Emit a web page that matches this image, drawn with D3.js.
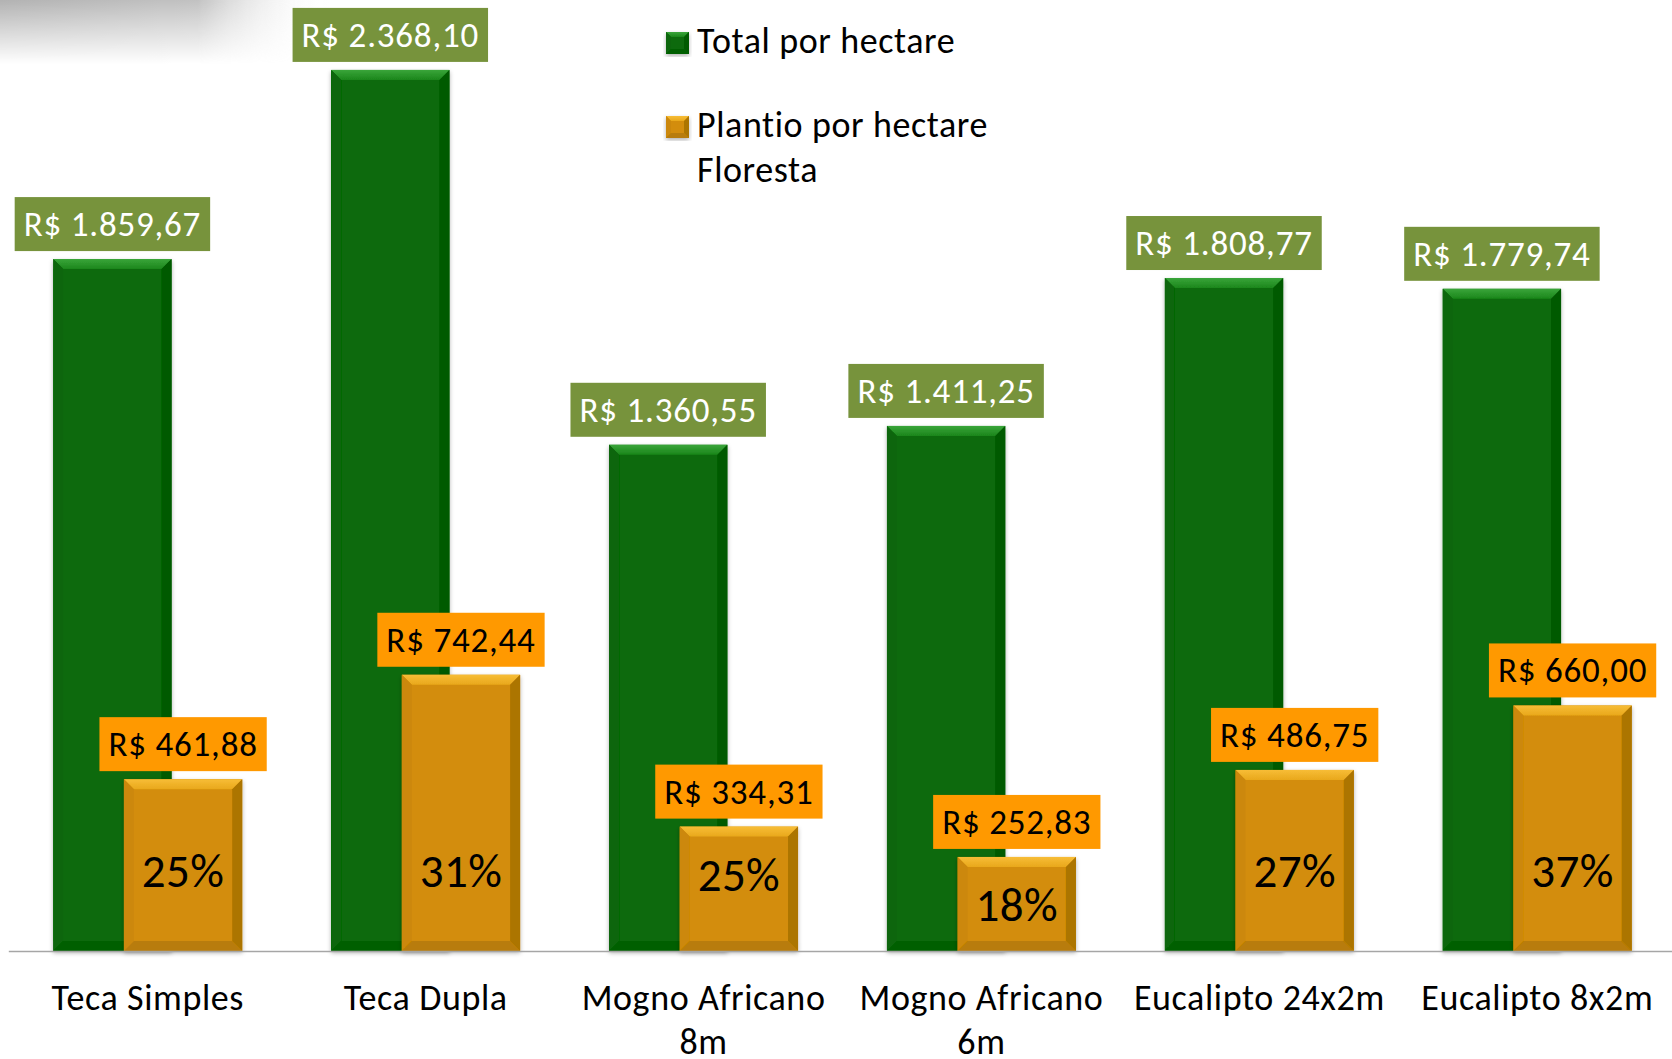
<!DOCTYPE html>
<html>
<head>
<meta charset="utf-8">
<script src="https://cdn.jsdelivr.net/npm/d3@7"></script>
<style>
  html, body { margin: 0; padding: 0; background: #fff; }
  svg { display: block; font-family: Calibri, Carlito, Lato, sans-serif; }
</style>
</head>
<body>
<svg width="1672" height="1059"></svg>
<script>
// values
const categories = ["Teca Simples", "Teca Dupla", "Mogno Africano\n8m", "Mogno Africano\n6m", "Eucalipto 24x2m", "Eucalipto 8x2m"];
const totalPorHectare = [1859.67, 2368.10, 1360.55, 1411.25, 1808.77, 1779.74];
const plantioPorHectare = [461.88, 742.44, 334.31, 252.83, 486.75, 660.00];
const seriesNames = ["Total por hectare", "Plantio por hectare\nFloresta"];

const width = 1672, height = 1059;
const baseY = 951;

const br = d3.formatLocale({ decimal: ",", thousands: ".", grouping: [3], currency: ["R$ ", ""] });
const money = br.format("$,.2f");
const pct = d3.format(".0%");

const svg = d3.select("svg");
const defs = svg.append("defs");

// grey fade in the top left corner (slide background)
const gx = defs.append("linearGradient").attr("id", "fadeX");
gx.append("stop").attr("offset", "0%").attr("stop-color", "#b2b2b2");
gx.append("stop").attr("offset", "60%").attr("stop-color", "#c2c2c2");
gx.append("stop").attr("offset", "100%").attr("stop-color", "#fff").attr("stop-opacity", 0);
const gy = defs.append("linearGradient").attr("id", "fadeY").attr("x2", 0).attr("y2", 1);
gy.append("stop").attr("offset", "0%").attr("stop-color", "#fff").attr("stop-opacity", 1);
gy.append("stop").attr("offset", "100%").attr("stop-color", "#fff").attr("stop-opacity", 0);
const mask = defs.append("mask").attr("id", "fadeMask");
mask.append("rect").attr("width", 330).attr("height", 64).attr("fill", "url(#fadeY)");
svg.append("rect").attr("width", 330).attr("height", 64)
  .attr("fill", "url(#fadeX)").attr("mask", "url(#fadeMask)");

const shadow = defs.append("filter").attr("id", "shadow")
  .attr("x", "-10%").attr("y", "-5%").attr("width", "120%").attr("height", "115%");
shadow.append("feDropShadow").attr("dx", 0).attr("dy", 2).attr("stdDeviation", 2)
  .attr("flood-color", "#000").attr("flood-opacity", 0.3);

const palettes = {
  green: { main: "#076a07", top: ["#3aa53a", "#1b861b"], left: "#086608", right: "#055a05", bottom: "#065e06" },
  orange: { main: "#d38d07", top: ["#f7bd36", "#e9a81c"], left: "#cc8808", right: "#ac7406", bottom: "#b87c07" }
};
Object.entries(palettes).forEach(([k, p]) => {
  const g = defs.append("linearGradient").attr("id", "top-" + k).attr("x2", 0).attr("y2", 1);
  g.append("stop").attr("offset", "0%").attr("stop-color", p.top[0]);
  g.append("stop").attr("offset", "100%").attr("stop-color", p.top[1]);
});

const x = d3.scaleBand().domain(categories).range([8.8, 1676.2]).paddingInner(0.32).paddingOuter(0.16);
const y = d3.scaleLinear().domain([0, 2556]).range([baseY, 0]);
const barW = x.bandwidth() * 0.626;
const offs = [0, x.bandwidth() - barW];

// bevelled bar
function bevelBar(g, bx, by, w, h, key, b) {
  const p = palettes[key];
  const bb = Math.min(b, h / 2, w / 2);
  const grp = g.append("g").attr("filter", "url(#shadow)");
  grp.append("rect").attr("x", bx).attr("y", by).attr("width", w).attr("height", h).attr("fill", p.main);
  const poly = (pts, fill) => grp.append("polygon").attr("points", pts.map(d => d.join(",")).join(" ")).attr("fill", fill);
  poly([[bx, by], [bx + w, by], [bx + w - bb, by + bb], [bx + bb, by + bb]], "url(#top-" + key + ")");
  poly([[bx, by], [bx + bb, by + bb], [bx + bb, by + h - bb], [bx, by + h]], p.left);
  poly([[bx + w, by], [bx + w - bb, by + bb], [bx + w - bb, by + h - bb], [bx + w, by + h]], p.right);
  poly([[bx, by + h], [bx + bb, by + h - bb], [bx + w - bb, by + h - bb], [bx + w, by + h]], p.bottom);
}

const series = [
  { key: "green", values: totalPorHectare, box: "#77933c", txt: "#fff" },
  { key: "orange", values: plantioPorHectare, box: "#ff9900", txt: "#000" }
];

// bars
series.forEach((s, si) => {
  const g = svg.append("g");
  s.values.forEach((v, i) => {
    bevelBar(g, x(categories[i]) + offs[si], y(v), barW, baseY - y(v), s.key, 10);
  });
});

// axis line
svg.append("line").attr("x1", 8.8).attr("x2", width).attr("y1", baseY + 0.5).attr("y2", baseY + 0.5)
  .attr("stroke", "#a6a6a6").attr("stroke-width", 1.5);

// percent labels inside orange bars
svg.append("g").selectAll("text").data(plantioPorHectare).join("text")
  .attr("x", (d, i) => x(categories[i]) + offs[1] + barW / 2)
  .attr("y", d => Math.max(y(d) + 47, 870))
  .attr("dy", "0.36em")
  .attr("text-anchor", "middle").attr("font-size", 47).attr("letter-spacing", 0.4).attr("fill", "#000")
  .text((d, i) => pct(d / totalPorHectare[i]));

// value label boxes
series.forEach((s, si) => {
  s.values.forEach((v, i) => {
    const cx = x(categories[i]) + offs[si] + barW / 2;
    const bottom = y(v) - 8;
    const g = svg.append("g");
    const r = g.append("rect").attr("fill", s.box);
    const t = g.append("text").attr("x", cx).attr("y", bottom - 15)
      .attr("text-anchor", "middle").attr("font-size", 35).attr("letter-spacing", 0.8)
      .attr("fill", s.txt).text(money(v));
    const len = t.node().getComputedTextLength();
    r.attr("x", cx - len / 2 - 9).attr("width", len + 18).attr("y", bottom - 54).attr("height", 54);
  });
});

// category labels
svg.append("g").selectAll("text").data(categories).join("text")
  .attr("x", d => x(d) + x.bandwidth() / 2)
  .attr("y", 1010)
  .attr("text-anchor", "middle").attr("font-size", 36).attr("letter-spacing", 0.6).attr("fill", "#000")
  .each(function (d) {
    d3.select(this).selectAll("tspan").data(d.split("\n")).join("tspan")
      .attr("x", x(d) + x.bandwidth() / 2)
      .attr("dy", (l, j) => j ? 44 : 0)
      .text(l => l);
  });

// legend
const legend = svg.append("g");
const legY = [53, 137];
series.forEach((s, si) => {
  bevelBar(legend, 666, legY[si] - 21, 23, 22, s.key, 5);
  const t = legend.append("text").attr("x", 697).attr("y", legY[si])
    .attr("font-size", 36).attr("letter-spacing", 0.6).attr("fill", "#000");
  t.selectAll("tspan").data(seriesNames[si].split("\n")).join("tspan")
    .attr("x", 697).attr("dy", (l, j) => j ? 45 : 0).text(l => l);
});
</script>
</body>
</html>
